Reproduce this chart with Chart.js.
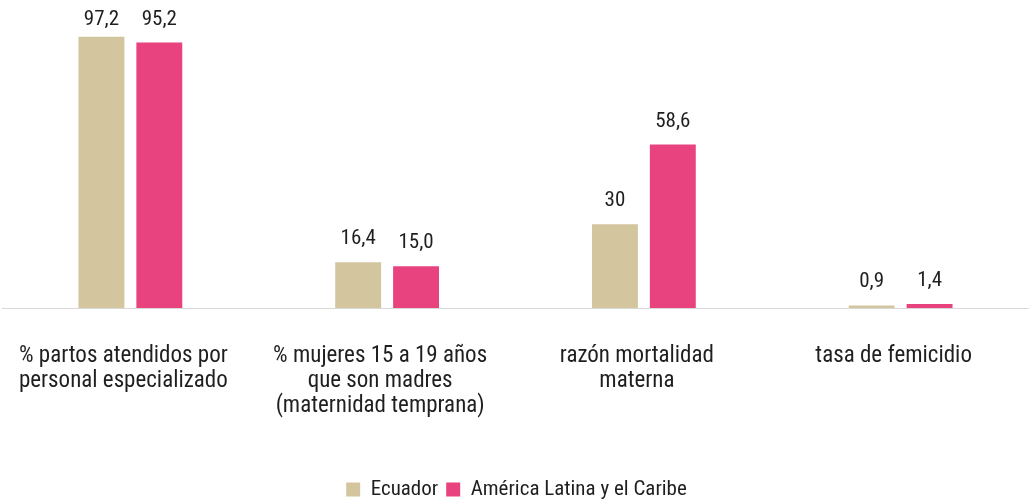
<!DOCTYPE html>
<html>
<head>
<meta charset="utf-8">
<script src="https://cdn.jsdelivr.net/npm/chart.js@4"></script>
<style>
  body { margin: 0; background: #fff; }
  #wrap { width: 1029px; height: 499px; }
</style>
</head>
<body>
<div id="wrap"><canvas id="chart"></canvas></div>
<script>
const categories = [
  ['% partos atendidos por', 'personal especializado'],
  ['% mujeres 15 a 19 años', 'que son madres', '(maternidad temprana)'],
  ['razón mortalidad', 'materna'],
  'tasa de femicidio'
];
const ecuadorValues = [97.2, 16.4, 30, 0.9];
const latamValues = [95.2, 15.0, 58.6, 1.4];
const ecuadorLabels = ['97,2', '16,4', '30', '0,9'];
const latamLabels = ['95,2', '15,0', '58,6', '1,4'];

const FONT = "'Liberation Sans Narrow', 'Roboto Condensed', 'Arial Narrow', Roboto, sans-serif";
const TEXT = '#1f1f1f';

// draws the value above each bar
const valueLabels = {
  id: 'valueLabels',
  afterDatasetsDraw(chart) {
    const ctx = chart.ctx;
    ctx.save();
    ctx.font = '21px ' + FONT;
    ctx.fillStyle = TEXT;
    ctx.textAlign = 'center';
    ctx.textBaseline = 'alphabetic';
    chart.data.datasets.forEach((ds, i) => {
      chart.getDatasetMeta(i).data.forEach((bar, j) => {
        const y = Math.max(bar.y - 18, 25);
        ctx.fillText(ds.valueLabels[j], bar.x, y);
      });
    });
    ctx.restore();
  }
};

new Chart(document.getElementById('chart'), {
  type: 'bar',
  data: {
    labels: categories,
    datasets: [{
      label: 'Ecuador',
      data: ecuadorValues,
      valueLabels: ecuadorLabels,
      backgroundColor: '#D3C59D',
      categoryPercentage: 0.451,
      barPercentage: 0.793
    }, {
      label: 'América Latina y el Caribe',
      data: latamValues,
      valueLabels: latamLabels,
      backgroundColor: '#E8437F',
      categoryPercentage: 0.451,
      barPercentage: 0.793
    }]
  },
  options: {
    responsive: true,
    maintainAspectRatio: false,
    animation: false,
    layout: { padding: { top: 29, left: 2, right: -2, bottom: -11 } },
    plugins: {
      tooltip: { enabled: false },
      legend: {
        position: 'bottom',
        labels: {
          boxWidth: 14,
          boxHeight: 14,
          padding: 8,
          color: TEXT,
          font: { family: FONT, size: 21 }
        }
      }
    },
    scales: {
      x: {
        grid: { display: false, drawTicks: false },
        border: { display: true, color: '#d9d9d9', width: 1 },
        ticks: {
          color: TEXT,
          padding: 36,
          labelOffset: -7,
          maxRotation: 0,
          autoSkip: false,
          font: { family: FONT, size: 23, lineHeight: 1.087 }
        },
        afterFit(scale) {
          scale.height = 163;
          scale.paddingLeft = 0;
          scale.paddingRight = 0;
        }
      },
      y: {
        display: false,
        min: 0,
        max: 100
      }
    }
  },
  plugins: [valueLabels]
});
</script>
</body>
</html>
